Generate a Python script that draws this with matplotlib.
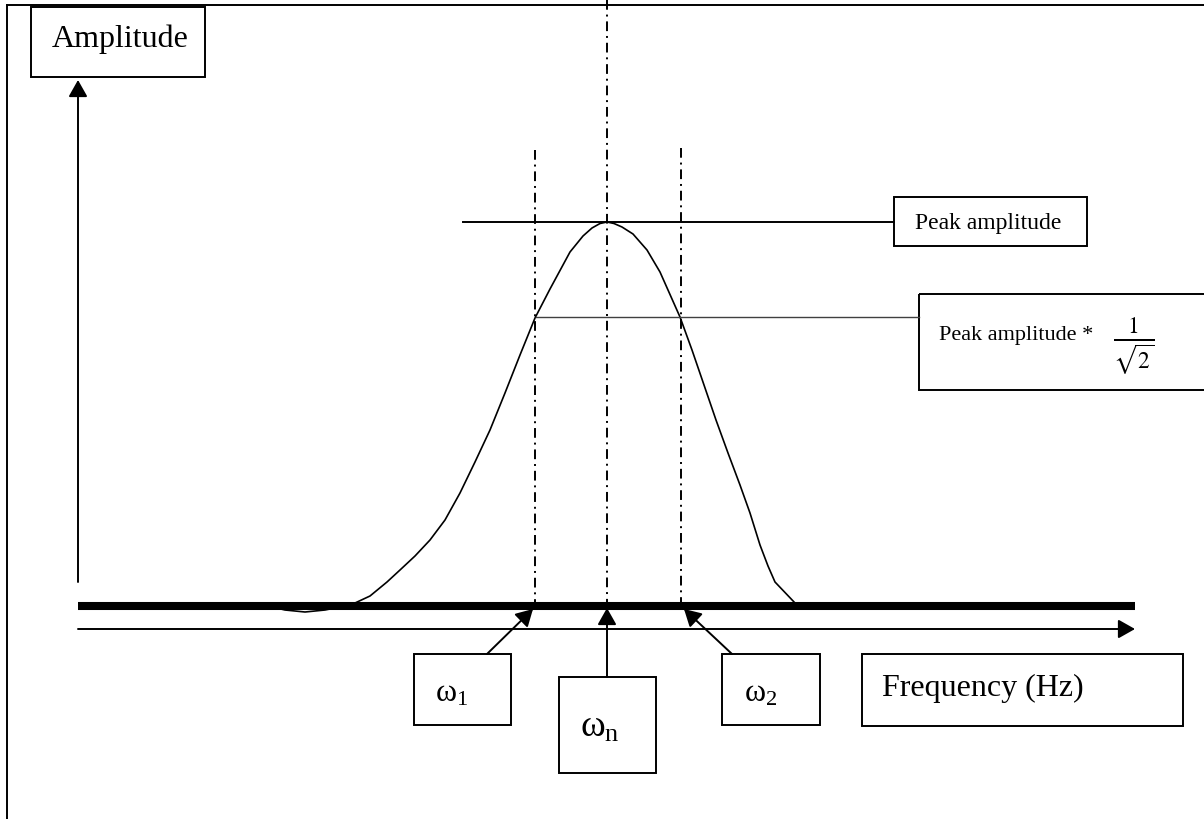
import matplotlib.pyplot as plt
from matplotlib.patches import Rectangle

plt.rcParams['font.family'] = ['Liberation Serif', 'DejaVu Serif']
plt.rcParams['mathtext.fontset'] = 'custom'
plt.rcParams['mathtext.rm'] = 'Liberation Serif'
plt.rcParams['mathtext.it'] = 'Liberation Serif'

# response curve (pixel units, y down)
curve_x = [268, 285, 305, 325, 345, 355, 370, 387, 400, 415, 430, 445, 460, 475, 490,
           505, 520, 535, 550, 570, 583, 592, 600, 607, 614, 622, 633, 647, 660, 680,
           692, 704, 716, 728, 740, 750, 760, 768, 775, 795]
curve_y = [606, 610, 612, 610, 606, 603, 596, 582, 570, 556, 540, 520, 493, 462, 430,
           393, 355, 318, 289, 252, 236, 228, 223.5, 222, 223.5, 227, 234, 250, 272, 317,
           350, 385, 420, 453, 485, 513, 545, 566, 582, 603]

# marker frequencies and levels
omega_x = [535, 607, 681]          # w1, wn, w2
omega_top = [150, 0, 148]
peak_y = 222
half_y = 317
base_y = 606
axis_y = 629

# label boxes: (x0, y0, x1, y1)
boxes = {
    'amp': (31, 7, 205, 77),
    'peak': (894, 197, 1087, 246),
    'half': (919, 294, 1210, 390),
    'w1': (414, 654, 511, 725),
    'wn': (559, 677, 656, 773),
    'w2': (722, 654, 820, 725),
    'freq': (862, 654, 1183, 726),
}

fig = plt.figure(figsize=(12.04, 8.19), dpi=100)
ax = fig.add_axes([0, 0, 1, 1])
ax.set_xlim(0, 1204)
ax.set_ylim(819, 0)
ax.axis('off')

# page frame
ax.plot([7, 1204], [5, 5], color='black', lw=1.4)
ax.plot([7, 7], [5, 819], color='black', lw=1.4)

for key, (x0, y0, x1, y1) in boxes.items():
    ax.add_patch(Rectangle((x0, y0), x1 - x0, y1 - y0, fill=False,
                           edgecolor='black', lw=1.4))

arrow = dict(arrowstyle='-|>,head_length=0.85,head_width=0.48', color='black',
             lw=1.4, shrinkA=0, shrinkB=0, mutation_scale=12)

# axes
ax.annotate('', xy=(78, 80), xytext=(78, 582), arrowprops=arrow)
ax.annotate('', xy=(1135, axis_y), xytext=(78, axis_y), arrowprops=arrow)
ax.plot([78, 1135], [base_y, base_y], color='black', lw=5.8, solid_capstyle='butt')

# curve
ax.plot(curve_x, curve_y, color='black', lw=1.2)

# dash-dot markers
for x, top in zip(omega_x, omega_top):
    ax.plot([x, x], [top, base_y], color='black', lw=1.4,
            linestyle=(0, (5, 2.5, 1, 2.5)))

# level lines
ax.plot([463, 894], [peak_y, peak_y], color='black', lw=1.4)
ax.plot([536, 919], [half_y, half_y], color='#404040', lw=1.0)

# omega arrows
ax.annotate('', xy=(533, 609), xytext=(487, 654), arrowprops=arrow)
ax.annotate('', xy=(607, 608), xytext=(607, 677), arrowprops=arrow)
ax.annotate('', xy=(684, 609), xytext=(732, 654), arrowprops=arrow)

# text
ax.text(52, 47, 'Amplitude', fontsize=23, va='baseline')
ax.text(915, 229, 'Peak amplitude', fontsize=17, va='baseline')
ax.text(939, 340, 'Peak amplitude *', fontsize=16, va='baseline')
ax.text(1134, 346, r'$\frac{1}{\sqrt{2}}$', fontsize=24, ha='center', va='center',
        math_fontfamily='stix')
ax.text(882, 696, 'Frequency (Hz)', fontsize=23, va='baseline')
ax.text(435, 701, r'$\mathrm{ω}_{\mathrm{1}}$', fontsize=23, va='baseline')
ax.text(580, 737, r'$\mathrm{ω}_{\mathrm{n}}$', fontsize=27, va='baseline')
ax.text(744, 701, r'$\mathrm{ω}_{\mathrm{2}}$', fontsize=23, va='baseline')

fig.savefig('out.png', dpi=100)
